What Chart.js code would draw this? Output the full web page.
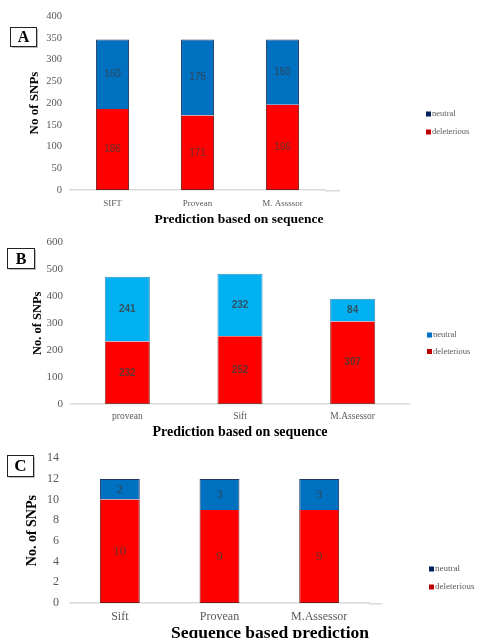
<!DOCTYPE html>
<html>
<head>
<meta charset="utf-8">
<script src="https://cdn.jsdelivr.net/npm/chart.js@4.4.1/dist/chart.umd.min.js"></script>
<style>
  body { margin:0; background:#fff; overflow:hidden; width:481px; height:638px; position:relative; }
  canvas { position:absolute; left:0; }
</style>
</head>
<body>
<canvas id="chartA" width="481" height="228" style="top:0px"></canvas>
<canvas id="chartB" width="481" height="212" style="top:228px"></canvas>
<canvas id="chartC" width="481" height="202" style="top:440px"></canvas>
<script>
// panel A
const labelsA = ['SIFT', 'Provean', 'M. Assssor'];
const deleteriousA = [186, 171, 196];
const neutralA = [160, 175, 150];
const yMaxA = 400, yStepA = 50;

// panel B
const labelsB = ['provean', 'Sift', 'M.Assessor'];
const deleteriousB = [232, 252, 307];
const neutralB = [241, 232, 84];
const yMaxB = 600, yStepB = 100;

// panel C
const labelsC = ['Sift', 'Provean', 'M.Assessor'];
const deleteriousC = [10, 9, 9];
const neutralC = [2, 3, 3];
const yMaxC = 14, yStepC = 2;

const SERIF = '"Liberation Serif", "DejaVu Serif", serif';
const GREY = '#595959';

Chart.register({
    id: 'panelDecor',
    afterDatasetsDraw(chart, args, opts) {
        const ctx = chart.ctx;
        ctx.save();
        ctx.font = opts.valueFont;
        ctx.fillStyle = opts.valueColor;
        ctx.textAlign = 'center';
        ctx.textBaseline = 'middle';
        chart.data.datasets.forEach((ds, i) => {
            chart.getDatasetMeta(i).data.forEach((bar, j) => {
                ctx.fillText(ds.data[j], bar.x, (bar.y + bar.base) / 2);
            });
        });
        ctx.restore();
    },
    afterDraw(chart, args, opts) {
        const ctx = chart.ctx;
        const area = chart.chartArea;
        ctx.save();
        // axis line runs a bit past the last category, like the Excel original
        ctx.strokeStyle = '#d9d9d9';
        ctx.lineWidth = 1.5;
        ctx.beginPath();
        ctx.moveTo(area.right, area.bottom + 0.75);
        ctx.lineTo(area.right + opts.axisExtra, area.bottom + 0.75);
        ctx.stroke();

        // x title (Excel put it off-centre in A and C)
        const t = opts.xTitle;
        ctx.fillStyle = '#000';
        ctx.font = 'bold ' + t.size + 'px ' + SERIF;
        ctx.textAlign = 'center';
        ctx.textBaseline = 'middle';
        ctx.fillText(t.text, t.x, t.y);

        // panel letter in a box
        const b = opts.box;
        ctx.fillStyle = '#bbbbbb';
        ctx.fillRect(b.x + 2, b.y + 2, b.w, b.h);
        ctx.fillStyle = '#fff';
        ctx.fillRect(b.x, b.y, b.w, b.h);
        ctx.strokeStyle = '#222';
        ctx.lineWidth = 1;
        ctx.strokeRect(b.x + 0.5, b.y + 0.5, b.w, b.h);
        ctx.fillStyle = '#000';
        ctx.font = 'bold ' + b.size + 'px ' + SERIF;
        ctx.fillText(opts.letter, b.x + b.w / 2 + 0.5, b.y + b.h / 2 + 1.5);

        // legend, top item first
        const lg = opts.legend;
        ctx.font = lg.size + 'px ' + SERIF;
        ctx.textAlign = 'left';
        const items = chart.data.datasets.slice().reverse();
        items.forEach((ds, k) => {
            const y = lg.y + k * lg.gap;
            ctx.fillStyle = lg.colors[items.length - 1 - k];
            ctx.fillRect(lg.x, y - 2.5, 5, 5);
            ctx.fillStyle = GREY;
            ctx.fillText(ds.label, lg.x + 6, y);
        });
        ctx.restore();
    }
});

function createStack(id, cfg) {
    const ctx = document.getElementById(id).getContext('2d');
    return new Chart(ctx, {
        type: 'bar',
        data: {
            labels: cfg.labels,
            datasets: [{
                label: 'deleterious',
                data: cfg.deleterious,
                backgroundColor: '#ff0000',
                borderColor: cfg.redBorder,
                borderWidth: 1,
                borderSkipped: 'top'
            }, {
                label: 'neutral',
                data: cfg.neutral,
                backgroundColor: cfg.blue,
                borderColor: cfg.blueBorder,
                borderWidth: 1,
                borderSkipped: 'bottom'
            }]
        },
        options: {
            responsive: false,
            animation: false,
            layout: { padding: cfg.pad },
            datasets: { bar: { categoryPercentage: 1, barPercentage: cfg.barPct } },
            scales: {
                x: {
                    stacked: true,
                    grid: { display: false, drawTicks: false },
                    border: { display: true, color: '#d9d9d9', width: 1.5 },
                    ticks: { color: GREY, padding: cfg.xTickPad, font: { family: SERIF, size: cfg.xTickSize } },
                    afterFit(scale) { scale.height = cfg.xHeight; }
                },
                y: {
                    stacked: true,
                    min: 0,
                    max: cfg.yMax,
                    grid: { display: false, drawTicks: false },
                    border: { display: false },
                    ticks: { stepSize: cfg.yStep, color: GREY, padding: cfg.yTickPad,
                             font: { family: SERIF, size: cfg.yTickSize } },
                    title: { display: true, text: cfg.yTitle, color: '#000', padding: 0,
                             font: { family: SERIF, size: cfg.yTitleSize, weight: 'bold' } },
                    afterFit(scale) { scale.width = cfg.yWidth; }
                }
            },
            plugins: {
                legend: { display: false },
                tooltip: { enabled: false },
                panelDecor: {
                    letter: cfg.letter,
                    box: cfg.box,
                    legend: cfg.legend,
                    xTitle: cfg.xTitle,
                    axisExtra: cfg.axisExtra,
                    valueFont: cfg.valueFont,
                    valueColor: 'rgba(60,60,60,0.8)'
                }
            }
        }
    });
}

createStack('chartA', {
    labels: labelsA, deleterious: deleteriousA, neutral: neutralA,
    yMax: yMaxA, yStep: yStepA,
    blue: '#0070c0', blueBorder: '#1f3864', redBorder: '#7a1a1a',
    pad: { top: 16, left: 27, right: 156, bottom: 0 },
    barPct: 0.39, yWidth: 43, xHeight: 38,
    xTickPad: 8, xTickSize: 9, yTickPad: 8, yTickSize: 10.5,
    xTitle: { text: 'Prediction based on sequence', size: 13.5, x: 239, y: 220 },
    yTitle: 'No of SNPs', yTitleSize: 13,
    letter: 'A', box: { x: 10, y: 27, w: 26, h: 19, size: 16 },
    legend: { x: 426, y: 114, gap: 18, size: 8.5, colors: ['#c00000', '#002060'] },
    axisExtra: 15, valueFont: '10px "Liberation Sans", sans-serif'
});

createStack('chartB', {
    labels: labelsB, deleterious: deleteriousB, neutral: neutralB,
    yMax: yMaxB, yStep: yStepB,
    blue: '#00b0f0', blueBorder: '#3f8fc0', redBorder: '#8a3a3a',
    pad: { top: 12, left: 30, right: 72, bottom: 0 },
    barPct: 0.4, yWidth: 41, xHeight: 36,
    xTickPad: 7, xTickSize: 9.5, yTickPad: 8, yTickSize: 11,
    xTitle: { text: 'Prediction based on sequence', size: 14, x: 240, y: 204 },
    yTitle: 'No. of SNPs', yTitleSize: 12.5,
    letter: 'B', box: { x: 7, y: 20, w: 27, h: 20, size: 16 },
    legend: { x: 427, y: 107, gap: 16.5, size: 8.5, colors: ['#c00000', '#0070c0'] },
    axisExtra: 0, valueFont: 'bold 10px "Liberation Sans", sans-serif'
});

createStack('chartC', {
    labels: labelsC, deleterious: deleteriousC, neutral: neutralC,
    yMax: yMaxC, yStep: yStepC,
    blue: '#0070c0', blueBorder: '#1f3864', redBorder: '#7a1a1a',
    pad: { top: 16, left: 24, right: 112, bottom: 0 },
    barPct: 0.4, yWidth: 46, xHeight: 39,
    xTickPad: 7, xTickSize: 12, yTickPad: 11, yTickSize: 12,
    xTitle: { text: 'Sequence based prediction', size: 17.5, x: 270, y: 193 },
    yTitle: 'No. of SNPs', yTitleSize: 14,
    letter: 'C', box: { x: 7, y: 15, w: 26, h: 21, size: 17 },
    legend: { x: 429, y: 129, gap: 18, size: 9, colors: ['#c00000', '#002060'] },
    axisExtra: 13, valueFont: '13px ' + SERIF
});
</script>
</body>
</html>
